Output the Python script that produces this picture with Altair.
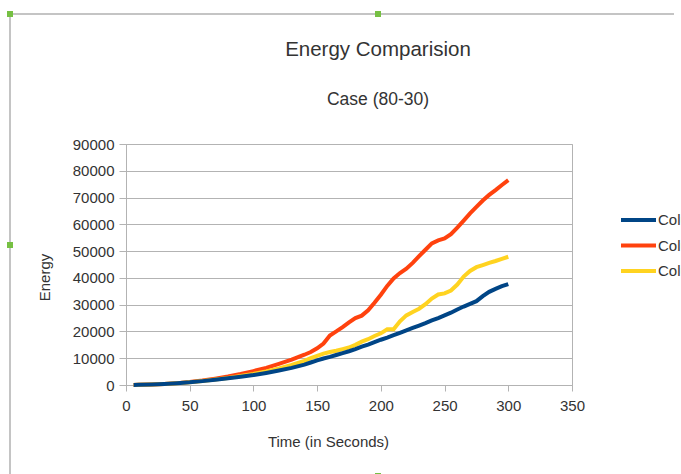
import altair as alt
import pandas as pd

# ---- data ----
times = [6, 10, 20, 30, 40, 50, 60, 70, 80, 90, 100, 110, 120, 130, 140,
         145, 150, 155, 160, 165, 170, 175, 180, 185, 190, 195, 200, 205, 210,
         215, 220, 225, 230, 235, 240, 245, 250, 255, 260, 265, 270, 275, 280,
         285, 290, 295, 300]

blue = [0, 50, 180, 380, 660, 1000, 1450, 1950, 2500, 3100, 3700, 4500, 5400, 6400, 7600,
        8400, 9200, 9900, 10500, 11200, 11900, 12600, 13400, 14300, 15100, 16000, 16900,
        17700, 18600, 19500, 20400, 21300, 22200, 23100, 24100, 25000, 26000, 27000,
        28200, 29300, 30300, 31300, 33200, 34800, 35900, 36900, 37700]

red = [0, 50, 180, 400, 700, 1100, 1650, 2350, 3150, 4100, 5200, 6400, 7900, 9500, 11300,
       12300, 13700, 15500, 18500, 20000, 21600, 23400, 25000, 25900, 27900, 30700, 33700,
       37000, 39800, 41800, 43400, 45600, 48100, 50500, 52900, 54000, 54700, 56300,
       58800, 61400, 64100, 66500, 68900, 71000, 72800, 74700, 76500]

yellow = [0, 50, 180, 390, 680, 1050, 1500, 2050, 2650, 3350, 4150, 5100, 6200, 7500, 9000,
          10000, 10900, 11700, 12300, 12800, 13400, 14000, 15000, 16200, 17100, 18300, 19300,
          20800, 20800, 23800, 26000, 27300, 28500, 30200, 32300, 33800, 34200, 35300,
          37500, 40500, 42600, 44000, 44800, 45600, 46300, 47100, 47900]

series_names = ["Column B", "Column C", "Column D"]
series_colors = ["#004586", "#ff420e", "#ffd320"]

x_ticks = [0, 50, 100, 150, 200, 250, 300, 350]
y_ticks = [0, 10000, 20000, 30000, 40000, 50000, 60000, 70000, 80000, 90000]

title_text = "Energy Comparision"
subtitle_text = "Case (80-30)"
x_title = "Time (in Seconds)"
y_title = "Energy"

rows = []
for name, vals in zip(series_names, [blue, red, yellow]):
    for t, v in zip(times, vals):
        rows.append({"time": t, "energy": v, "series": name})
df = pd.DataFrame(rows)

FONT = "Liberation Sans"
TXT = "#333333"
GRAY = "#b3b3b3"

x_enc = alt.X("time:Q",
              scale=alt.Scale(domain=[0, 350], nice=False, zero=False),
              axis=alt.Axis(values=x_ticks, title=x_title, grid=False,
                            tickSize=6, labelPadding=7, labelFlush=False,
                            titleX=202, titleY=56,
                            titleBaseline="middle", titleAnchor="middle"))
y_enc = alt.Y("energy:Q",
              scale=alt.Scale(domain=[0, 90000], nice=False),
              axis=alt.Axis(values=y_ticks, format="d", title=y_title, grid=True,
                            tickSize=7, labelPadding=5, labelFlush=False,
                            titleX=-82, titleY=133,
                            titleBaseline="middle", titleAnchor="middle"))
c_enc = alt.Color("series:N",
                  scale=alt.Scale(domain=series_names, range=series_colors),
                  legend=alt.Legend(title=None, orient="none", legendX=493, legendY=66,
                                    symbolType="stroke", symbolSize=1225,
                                    symbolStrokeWidth=4, labelFontSize=15,
                                    labelFont=FONT, labelColor=TXT,
                                    clipHeight=20, rowPadding=5.5,
                                    labelOffset=0, padding=0))

base = alt.Chart(df).mark_line(strokeWidth=4).encode(x=x_enc, y=y_enc, color=c_enc)

lines = alt.layer(
    base.transform_filter(alt.datum.series == "Column C"),
    base.transform_filter(alt.datum.series == "Column D"),
    base.transform_filter(alt.datum.series == "Column B"),
)

one = pd.DataFrame({"k": [0]})
frame_left = alt.Chart(one).mark_rule(color="#c4c4c4", strokeWidth=2).encode(
    x=alt.value(-116), y=alt.value(-130), y2=alt.value(332))
frame_top = alt.Chart(one).mark_rule(color="#c4c4c4", strokeWidth=2).encode(
    x=alt.value(-116), x2=alt.value(548), y=alt.value(-130))

handles = [
    alt.Chart(one).mark_square(size=36, color="#76c043", opacity=1).encode(
        x=alt.value(hx), y=alt.value(hy))
    for hx, hy in [(-116, -130), (252, -130), (-116, 101), (252, 332)]
]

title_mark = alt.Chart(one).mark_text(
    font=FONT, fontSize=20.5, color=TXT, align="center", baseline="middle"
).encode(x=alt.value(252), y=alt.value(-94), text=alt.value(title_text))
subtitle_mark = alt.Chart(one).mark_text(
    font=FONT, fontSize=17.5, color=TXT, align="center", baseline="middle"
).encode(x=alt.value(252), y=alt.value(-44), text=alt.value(subtitle_text))

chart = alt.layer(frame_left, frame_top, lines, title_mark, subtitle_mark, *handles).properties(
    width=446,
    height=241,
    autosize=alt.AutoSizeParams(type="none"),
    padding={"left": 126, "top": 144, "right": 109, "bottom": 89},
).configure_axis(
    domainColor=GRAY, tickColor=GRAY, gridColor=GRAY,
    labelFont=FONT, labelFontSize=15, labelColor=TXT,
    titleFont=FONT, titleFontSize=15, titleFontWeight="normal", titleColor=TXT,
).configure_view(
    stroke=GRAY
)

chart.save("out.html", embed_options={"renderer": "svg", "actions": False})
